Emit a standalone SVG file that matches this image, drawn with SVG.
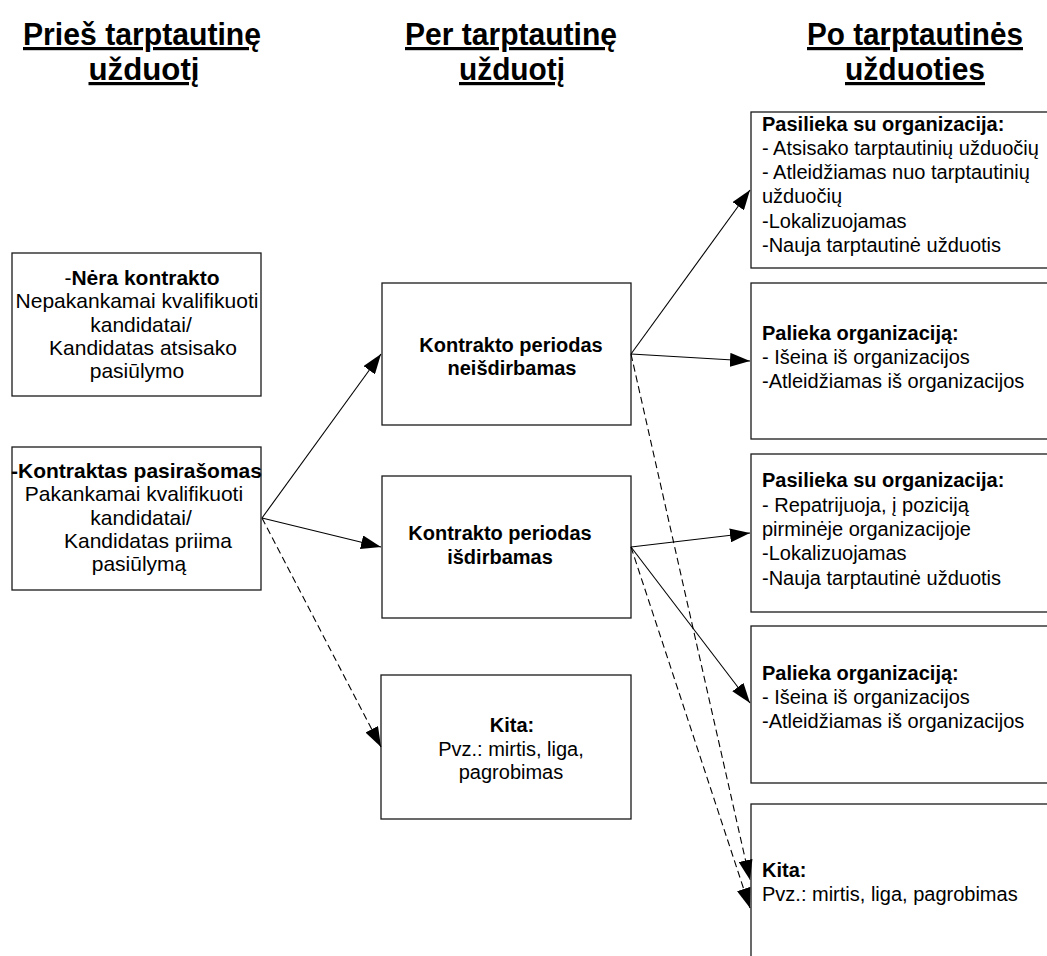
<svg xmlns="http://www.w3.org/2000/svg" width="1047" height="956" viewBox="0 0 1047 956">
  <style>
    .box { fill: #ffffff; stroke: #1a1a1a; stroke-width: 1.3; }
    .hdr { font-family: "Liberation Sans", Arial, sans-serif; font-size: 32px; font-weight: bold; text-anchor: middle; text-decoration: underline; fill: #000; }
    .t { font-family: "Liberation Sans", Arial, sans-serif; font-size: 21px; fill: #000; }
    .m { font-family: "Liberation Sans", Arial, sans-serif; font-size: 20px; fill: #000; }
    .c { text-anchor: middle; }
    .b { font-weight: bold; }
    .ln { stroke: #000; stroke-width: 1.1; fill: none; }
    .dash { stroke-dasharray: 7 4; }
  </style>
  <defs>
    <marker id="arrow" markerUnits="userSpaceOnUse" markerWidth="20" markerHeight="14" refX="20" refY="7" orient="auto">
      <path d="M0,0 L20,7 L0,14 z" fill="#000"/>
    </marker>
  </defs>

  <rect width="1047" height="956" fill="#ffffff"/>

  <!-- Column headings (condensed bold) -->
  <g id="headings">
    <text class="hdr" x="142" y="45" textLength="238" lengthAdjust="spacingAndGlyphs">Prieš tarptautinę</text>
    <text class="hdr" x="144" y="80" textLength="111" lengthAdjust="spacingAndGlyphs">užduotį</text>
    <text class="hdr" x="511" y="45" textLength="212" lengthAdjust="spacingAndGlyphs">Per tarptautinę</text>
    <text class="hdr" x="512" y="80" textLength="106" lengthAdjust="spacingAndGlyphs">užduotį</text>
    <text class="hdr" x="915" y="45" textLength="216" lengthAdjust="spacingAndGlyphs">Po tarptautinės</text>
    <text class="hdr" x="915" y="80" textLength="140" lengthAdjust="spacingAndGlyphs">užduoties</text>
  </g>

  <!-- Before the assignment -->
  <g id="no-contract">
    <rect class="box" x="12" y="253" width="249" height="143"/>
    <text class="t c" x="142" y="285">-<tspan class="b">Nėra kontrakto</tspan></text>
    <text class="t c" x="137" y="308">Nepakankamai kvalifikuoti</text>
    <text class="t c" x="141" y="332">kandidatai/</text>
    <text class="t c" x="143" y="355">Kandidatas atsisako</text>
    <text class="t c" x="137" y="378">pasiūlymo</text>
  </g>

  <g id="contract-signed">
    <rect class="box" x="12" y="447" width="249" height="143"/>
    <text class="t c b" x="136.5" y="478">-Kontraktas pasirašomas</text>
    <text class="t c" x="134" y="501">Pakankamai kvalifikuoti</text>
    <text class="t c" x="141" y="525">kandidatai/</text>
    <text class="t c" x="148" y="548">Kandidatas priima</text>
    <text class="t c" x="139" y="571">pasiūlymą</text>
  </g>

  <!-- During the assignment -->
  <g id="period-not-completed">
    <rect class="box" x="382" y="283" width="249" height="142"/>
    <text class="m c b" x="511" y="352">Kontrakto periodas</text>
    <text class="m c b" x="512" y="375">neišdirbamas</text>
  </g>

  <g id="period-completed">
    <rect class="box" x="382" y="476" width="249" height="142"/>
    <text class="m c b" x="500" y="540">Kontrakto periodas</text>
    <text class="m c b" x="500" y="564">išdirbamas</text>
  </g>

  <g id="other-during">
    <rect class="box" x="381" y="675" width="250" height="144"/>
    <text class="m c b" x="512" y="732">Kita:</text>
    <text class="m c" x="511" y="756">Pvz.: mirtis, liga,</text>
    <text class="m c" x="511" y="779">pagrobimas</text>
  </g>

  <!-- After the assignment -->
  <g id="stays-1">
    <rect class="box" x="751" y="112" width="320" height="156"/>
    <text class="m b" x="762" y="131">Pasilieka su organizacija:</text>
    <text class="m" x="762" y="155">- Atsisako tarptautinių užduočių</text>
    <text class="m" x="762" y="179">- Atleidžiamas nuo tarptautinių</text>
    <text class="m" x="762" y="203">užduočių</text>
    <text class="m" x="762" y="228">-Lokalizuojamas</text>
    <text class="m" x="762" y="252">-Nauja tarptautinė užduotis</text>
  </g>

  <g id="leaves-1">
    <rect class="box" x="751" y="283" width="320" height="156"/>
    <text class="m b" x="762" y="340">Palieka organizaciją:</text>
    <text class="m" x="762" y="364">- Išeina iš organizacijos</text>
    <text class="m" x="762" y="388">-Atleidžiamas iš organizacijos</text>
  </g>

  <g id="stays-2">
    <rect class="box" x="751" y="454" width="320" height="158"/>
    <text class="m b" x="762" y="487">Pasilieka su organizacija:</text>
    <text class="m" x="762" y="512">- Repatrijuoja, į poziciją</text>
    <text class="m" x="762" y="536">pirminėje organizacijoje</text>
    <text class="m" x="762" y="560">-Lokalizuojamas</text>
    <text class="m" x="762" y="585">-Nauja tarptautinė užduotis</text>
  </g>

  <g id="leaves-2">
    <rect class="box" x="751" y="626" width="320" height="157"/>
    <text class="m b" x="762" y="680">Palieka organizaciją:</text>
    <text class="m" x="762" y="704">- Išeina iš organizacijos</text>
    <text class="m" x="762" y="728">-Atleidžiamas iš organizacijos</text>
  </g>

  <g id="other-after">
    <rect class="box" x="751" y="804" width="320" height="170"/>
    <text class="m b" x="762" y="877">Kita:</text>
    <text class="m" x="762" y="901">Pvz.: mirtis, liga, pagrobimas</text>
  </g>

  <!-- Connectors -->
  <g id="connectors">
    <line class="ln" x1="262" y1="518" x2="381" y2="354" marker-end="url(#arrow)"/>
    <line class="ln" x1="262" y1="518" x2="381" y2="547" marker-end="url(#arrow)"/>
    <line class="ln dash" x1="262" y1="518" x2="381" y2="747" marker-end="url(#arrow)"/>

    <line class="ln" x1="631" y1="354" x2="750" y2="190" marker-end="url(#arrow)"/>
    <line class="ln" x1="631" y1="354" x2="750" y2="361" marker-end="url(#arrow)"/>
    <line class="ln dash" x1="631" y1="354" x2="750" y2="880" marker-end="url(#arrow)"/>

    <line class="ln" x1="631" y1="547" x2="750" y2="533" marker-end="url(#arrow)"/>
    <line class="ln" x1="631" y1="547" x2="750" y2="703" marker-end="url(#arrow)"/>
    <line class="ln dash" x1="631" y1="547" x2="750" y2="908" marker-end="url(#arrow)"/>
  </g>
</svg>
